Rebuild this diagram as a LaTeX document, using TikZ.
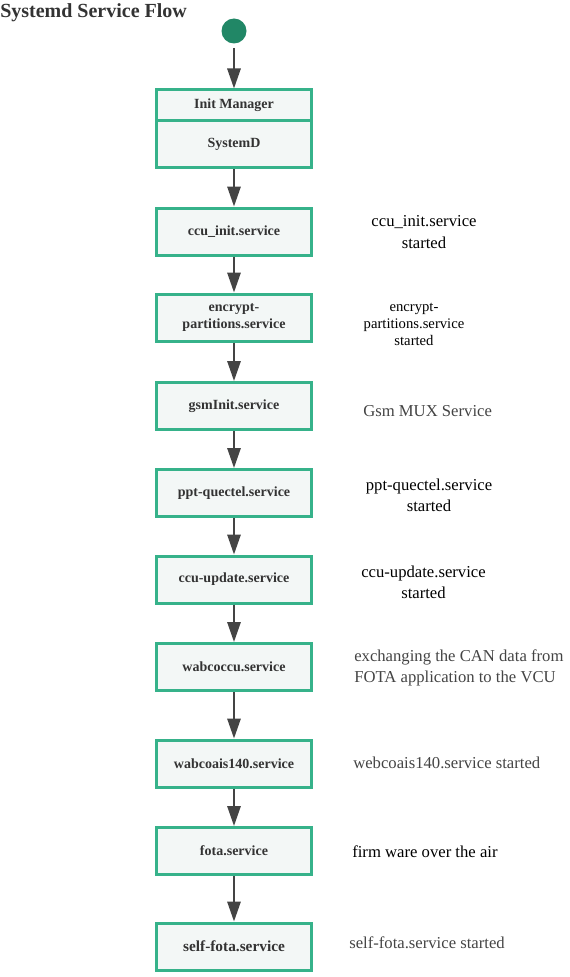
\documentclass[tikz,border=0pt]{standalone}
\usepackage{fontspec}
\setmainfont{Liberation Serif}
\usepackage{tikz}
\usetikzlibrary{arrows.meta,shapes}
\definecolor{unitgreen}{HTML}{36B28A}
\definecolor{unitfill}{HTML}{F3F7F6}
\definecolor{startgreen}{HTML}{218766}
\definecolor{flowgray}{HTML}{444444}
\tikzstyle{unit}=[rectangle, draw=unitgreen, fill=unitfill
%,rounded corners=1pt
,line width=2.25pt
,minimum width=116.25pt
,minimum height=35.25pt
,inner sep=0pt
,align=center
,font=\fontsize{10.5}{12.5}\selectfont\bfseries
,text=black!80
]
\tikzstyle{start} = [circle, fill=startgreen, minimum size=18.75pt, inner sep=0pt]
\tikzstyle{note} = [inner sep=0pt, align=center, font=\fontsize{12.5}{16}\selectfont]
\tikzstyle{side note} = [note, anchor=west, align=left]
\tikzstyle{gray note} = [side note, text=flowgray]
\tikzstyle{flow} = [draw, line width=1.5pt, flowgray, -{Triangle[width=10pt,length=15pt]}]

\begin{document}
\begin{tikzpicture}[x=0.75pt,y=-0.75pt]
    \useasboundingbox (0,0) rectangle (569,977);
    % Title and start point
    \node[anchor=base west, inner sep=0pt, text=black!80,
          font=\fontsize{15}{18}\selectfont\bfseries] (title) at (0,18) {Systemd Service Flow};
    \node[start] (start) at (234,31) {};

    % The init manager box is drawn in two parts
    \node[unit, minimum height=22.9pt] (initmgr) at (234,105.25) {Init Manager};
    \node[unit] (systemd) at (234,144) {SystemD};

    % Then the service units
    \foreach \pos/\name/\txt in {{(234,231.5)/ccuinit/ccu\_init.service},
        {(234,317.5)/encrypt/encrypt-\\partitions.service}, {(234,406)/gsminit/gsmInit.service},
        {(234,493)/quectel/ppt-quectel.service}, {(234,579.5)/update/ccu-update.service},
        {(234,667)/wabcoccu/wabcoccu.service}, {(234,763.5)/wabcoais/wabcoais140.service},
        {(234,851)/fota/fota.service}}
        \node[unit] (\name) at \pos {\txt};
    \node[unit, font=\fontsize{11.5}{13}\selectfont\bfseries] (selffota) at (234,946.5) {self-fota.service};

    % Connect the units with arrows
    \path[flow, shorten <=3pt] (start) -- (initmgr);
    \foreach \source/\dest in {systemd/ccuinit, ccuinit/encrypt, encrypt/gsminit, gsminit/quectel,
        quectel/update, update/wabcoccu, wabcoccu/wabcoais, wabcoais/fota, fota/selffota}
        \path[flow] (\source) -- (\dest);

    % Notes on the right
    \foreach \pos/\name/\txt in {{(424,232)/ccuinitnote/ccu\_init.service\\started},
        {(429,495.5)/quectelnote/ppt-quectel.service\\started},
        {(423.5,582.5)/updatenote/ccu-update.service\\started}}
        \node[note] (\name) at \pos {\txt};
    \node[note, font=\fontsize{11}{13}\selectfont] (encryptnote) at (414,324.5)
        {encrypt-\\partitions.service\\started};
    \node[gray note] (gsmnote) at (363,411) {Gsm MUX Service};
    \node[gray note] (wabcoccunote) at (354,668)
        {exchanging the CAN data from\\FOTA application to the VCU};
    \node[gray note] (wabcoaisnote) at (353,763) {webcoais140.service started};
    \node[side note] (fotanote) at (352,852) {firm ware over the air};
    \node[gray note] (selffotanote) at (349,943) {self-fota.service started};
\end{tikzpicture}
\end{document}
